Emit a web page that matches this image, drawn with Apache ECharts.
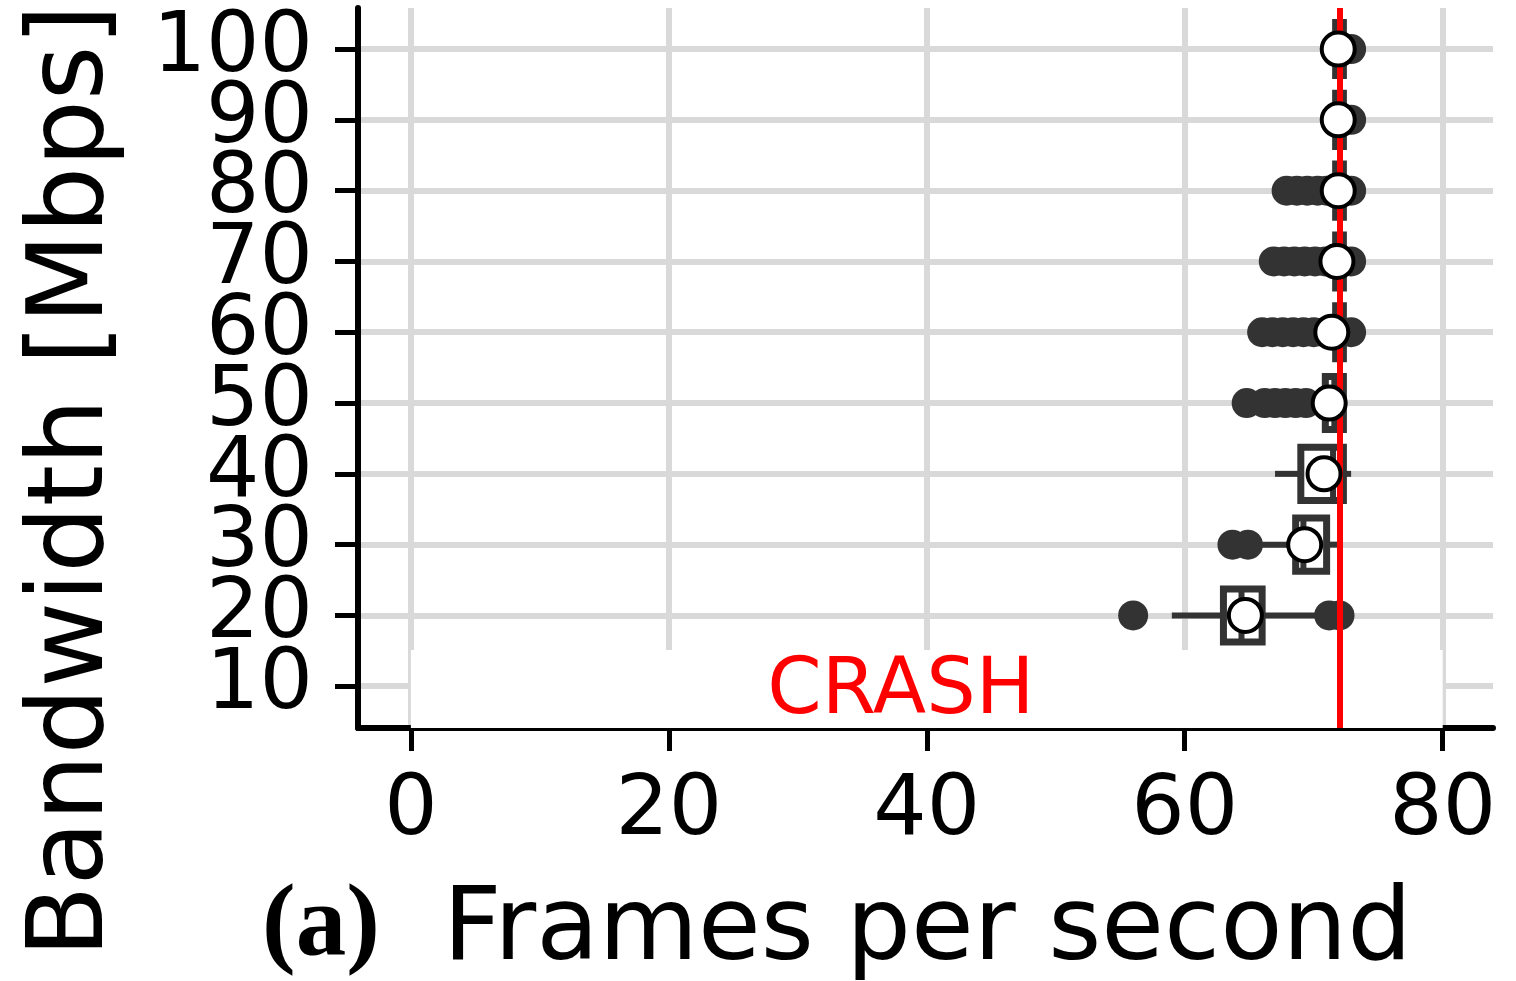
<!DOCTYPE html>
<html>
<head>
    <meta charset="utf-8">
    <title>Frames per second</title>
    <script src="https://cdn.jsdelivr.net/npm/echarts@6/dist/echarts.min.js"></script>
    <style>
        html, body { margin: 0; padding: 0; background: #fff; }
        #chart { width: 1516px; height: 981px; }
    </style>
</head>
<body>
<div id="chart"></div>
<script type="text/javascript">
    // bandwidth rows (Mbps)
    var bandwidth = [20, 30, 40, 50, 60, 70, 80, 90, 100];
    // box statistics per row
    var whiskerLow  = [59.0, 66.0, 67.0, 70.9, 71.7, 71.7, 71.7, 71.7, 71.7];
    var q1          = [63.0, 68.6, 69.0, 70.9, 71.7, 71.7, 71.7, 71.7, 71.7];
    var median      = [64.4, 69.2, 71.5, 71.6, 72.0, 72.0, 72.0, 72.0, 72.0];
    var q3          = [66.0, 71.0, 72.3, 72.3, 72.3, 72.3, 72.3, 72.3, 72.3];
    var whiskerHigh = [70.6, 71.9, 72.9, 72.3, 72.3, 72.3, 72.3, 72.3, 72.3];
    var means       = [64.7, 69.3, 70.8, 71.2, 71.4, 71.8, 71.9, 71.9, 71.9];
    // outliers per row
    var outliers = [
        [56.0, 71.2, 72.0],
        [63.7, 64.9],
        [],
        [64.8, 66.2, 67.0, 67.8, 68.6, 69.4],
        [66.0, 66.8, 67.6, 68.4, 69.2, 70.0, 70.8, 72.9],
        [66.9, 67.7, 68.5, 69.3, 70.1, 70.9, 72.9],
        [67.9, 68.7, 69.5, 70.3, 71.0, 72.9],
        [72.9],
        [72.9]
    ];
    var xTicks = [0, 20, 40, 60, 80];
    var yTicks = [10, 20, 30, 40, 50, 60, 70, 80, 90, 100];
    var targetFps = 72;
    var crashRow = 10;

    var boxData = bandwidth.map(function (b, i) {
        return [b, whiskerLow[i], q1[i], median[i], q3[i], whiskerHigh[i]];
    });
    var outlierData = [];
    outliers.forEach(function (row, i) {
        row.forEach(function (v) { outlierData.push([v, bandwidth[i]]); });
    });
    var meanData = bandwidth.map(function (b, i) { return [means[i], b]; });
    // the y labels overlap each other, so they are split over two stacked axes
    // (otherwise echarts drops the ones next to min/max)
    var yLabelsA = yTicks.filter(function (v, i) { return i % 2 === 0; });
    var yLabelsB = yTicks.filter(function (v, i) { return i % 2 === 1; });

    var dark = '#333333';
    var font = 'DejaVu Sans';
    var yLabelStyle = { margin: 45, color: '#000', fontFamily: font, fontSize: 84 };

    var myChart = echarts.init(document.getElementById('chart'));
    myChart.setOption({
        animation: false,
        backgroundColor: '#fff',
        grid: { left: 358, right: 23, top: 8, bottom: 253 },
        xAxis: {
            type: 'value',
            min: -4.1,
            max: 83.9,
            axisLine: { show: true, onZero: false, lineStyle: { color: '#000', width: 6 } },
            axisTick: { show: true, length: 23, customValues: xTicks, lineStyle: { color: '#000', width: 5 } },
            axisLabel: { customValues: xTicks, margin: 42, color: '#000', fontFamily: font, fontSize: 84 },
            splitLine: { show: true, lineStyle: { color: '#d9d9d9', width: 6 } }
        },
        yAxis: [
            {
                type: 'value',
                position: 'left',
                min: 4.1,
                max: 105.8,
                axisLine: { show: true, onZero: false, lineStyle: { color: '#000', width: 6 } },
                axisTick: { show: true, length: 23, customValues: yTicks, lineStyle: { color: '#000', width: 5 } },
                axisLabel: Object.assign({ customValues: yLabelsA }, yLabelStyle),
                splitLine: { show: true, lineStyle: { color: '#d9d9d9', width: 6 } }
            },
            {
                type: 'value',
                position: 'left',
                offset: 0,
                min: 4.1,
                max: 105.8,
                axisLine: { show: false, onZero: false },
                axisTick: { show: false },
                axisLabel: Object.assign({ customValues: yLabelsB }, yLabelStyle),
                splitLine: { show: false }
            }
        ],
        graphic: [
            {
                type: 'text',
                x: 75, y: 481,
                rotation: Math.PI / 2,
                style: {
                    text: 'Bandwidth [Mbps]',
                    font: '105px "DejaVu Sans"',
                    fill: '#000',
                    align: 'center',
                    verticalAlign: 'middle'
                }
            },
            {
                type: 'text',
                x: 262, y: 928,
                style: {
                    text: '(a)',
                    font: 'bold 101px "Liberation Serif"',
                    fill: '#000',
                    align: 'left',
                    verticalAlign: 'middle'
                }
            },
            {
                type: 'text',
                x: 443, y: 932,
                style: {
                    text: 'Frames per second',
                    font: '102px "DejaVu Sans"',
                    fill: '#000',
                    align: 'left',
                    verticalAlign: 'middle'
                }
            }
        ],
        series: [
            {
                name: 'box',
                type: 'custom',
                z: 3,
                data: boxData,
                encode: { x: [1, 2, 3, 4, 5], y: 0 },
                renderItem: function (params, api) {
                    var y = api.value(0);
                    var lo = api.coord([api.value(1), y]);
                    var a = api.coord([api.value(2), y]);
                    var m = api.coord([api.value(3), y]);
                    var b = api.coord([api.value(4), y]);
                    var hi = api.coord([api.value(5), y]);
                    var h = api.size([0, 7.5])[1];
                    var st = { stroke: dark, lineWidth: 6, fill: null };
                    return {
                        type: 'group',
                        children: [
                            { type: 'line', shape: { x1: lo[0], y1: lo[1], x2: a[0], y2: a[1] }, style: st },
                            { type: 'line', shape: { x1: b[0], y1: b[1], x2: hi[0], y2: hi[1] }, style: st },
                            { type: 'rect', shape: { x: a[0], y: a[1] - h / 2, width: b[0] - a[0], height: h },
                              style: { stroke: dark, lineWidth: 7, fill: '#fff' } },
                            { type: 'line', shape: { x1: m[0], y1: m[1] - h / 2, x2: m[0], y2: m[1] + h / 2 }, style: st }
                        ]
                    };
                },
                markLine: {
                    silent: true,
                    symbol: 'none',
                    label: { show: false },
                    lineStyle: { color: '#ff0000', width: 6, type: 'solid' },
                    data: [{ xAxis: targetFps }]
                }
            },
            {
                name: 'outliers',
                type: 'scatter',
                z: 4,
                symbolSize: 30,
                itemStyle: { color: dark, opacity: 1 },
                data: outlierData
            },
            {
                name: 'mean',
                type: 'scatter',
                z: 5,
                symbolSize: 33,
                itemStyle: { color: '#fff', borderColor: '#000', borderWidth: 4, opacity: 1 },
                data: meanData,
                markArea: {
                    silent: true,
                    itemStyle: { color: '#fff', opacity: 1 },
                    label: {
                        show: true,
                        position: 'inside',
                        offset: [-26, 4],
                        color: '#ff0000',
                        fontFamily: font,
                        fontSize: 78
                    },
                    data: [[
                        { name: 'CRASH', xAxis: 0, yAxis: 4.1 },
                        { xAxis: 80, yAxis: crashRow + 5.1 }
                    ]]
                }
            }
        ]
    });
</script>
</html>
